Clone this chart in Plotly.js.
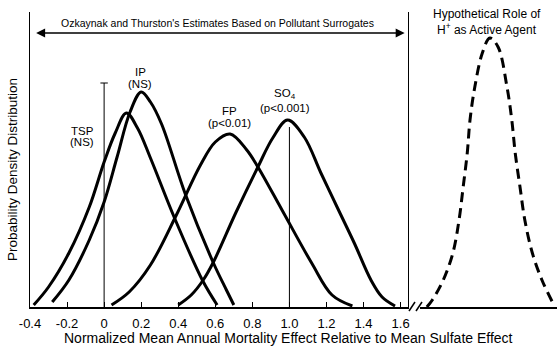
<!DOCTYPE html>
<html><head><meta charset="utf-8">
<script src="https://cdn.plot.ly/plotly-3.0.1.min.js"></script>
<style>html,body{margin:0;padding:0;background:#fff}#chart{width:557px;height:347px}</style>
</head><body><div id="chart"></div>
<script>
// ---- data ----
const tickVals = [-0.4, -0.2, 0, 0.2, 0.4, 0.6, 0.8, 1.0, 1.2, 1.4, 1.6];
const tickText = ["-0.4", "-0.2", "0", "0.2", "0.4", "0.6", "0.8", "1.0", "1.2", "1.4", "1.6"];

const tspX = [-0.38, -0.30, -0.19, -0.08, 0.0, 0.06, 0.12, 0.18, 0.25, 0.38, 0.53, 0.61];
const tspY = [0.02, 0.20, 0.54, 1.00, 1.45, 1.74, 1.94, 1.79, 1.49, 0.89, 0.27, 0.02];

const ipX = [-0.28, -0.19, -0.08, 0.0, 0.07, 0.14, 0.20, 0.25, 0.31, 0.44, 0.59, 0.66, 0.70];
const ipY = [0.05, 0.27, 0.67, 1.05, 1.50, 1.95, 2.15, 2.05, 1.83, 1.12, 0.44, 0.17, 0.02];

const fpX = [0.04, 0.135, 0.25, 0.39, 0.52, 0.60, 0.68, 0.77, 0.83, 0.96, 1.12, 1.23, 1.34];
const fpY = [0.02, 0.15, 0.42, 0.92, 1.42, 1.65, 1.73, 1.57, 1.40, 0.97, 0.44, 0.12, 0.01];

const so4X = [0.40, 0.47, 0.535, 0.59, 0.71, 0.83, 0.91, 0.99, 1.08, 1.17, 1.265, 1.35, 1.44, 1.50, 1.57];
const so4Y = [0.02, 0.12, 0.27, 0.45, 0.94, 1.40, 1.69, 1.87, 1.70, 1.34, 0.97, 0.64, 0.27, 0.10, 0.01];

// hypothetical H+ curve (separate, unscaled panel)
const hX = [0.05, 0.09, 0.17, 0.24, 0.285, 0.315, 0.345, 0.365, 0.40, 0.455, 0.51, 0.57, 0.635, 0.67, 0.695, 0.73, 0.765, 0.82, 0.89, 0.97];
const hY = [0.00, 0.07, 0.27, 0.54, 0.87, 1.20, 1.54, 1.87, 2.20, 2.54, 2.69, 2.60, 2.20, 1.87, 1.54, 1.20, 0.87, 0.54, 0.27, 0.04];

// reference markers at 0 (no effect) and 1.0 (mean sulfate effect)
const zeroLineTop = 2.24;
const sulfateLineTop = 1.80;

// ---- drawing ----
const W = 557, H = 347;
const px = v => v / W;
const py = v => (H - v) / H;
const FONT = '"Liberation Sans", Arial, Helvetica, sans-serif';

const curve = (x, y) => ({x, y, type: 'scatter', mode: 'lines', xaxis: 'x', yaxis: 'y',
  line: {color: '#000', width: 3, shape: 'spline', smoothing: 1}, hoverinfo: 'skip'});
const thin = (x, y) => ({x, y, type: 'scatter', mode: 'lines', xaxis: 'x', yaxis: 'y',
  line: {color: '#000', width: 1}, hoverinfo: 'skip'});

const traces = [
  thin([0, 0], [0, zeroLineTop]),
  thin([-0.02, 0.02], [zeroLineTop, zeroLineTop]),
  thin([1.0, 1.0], [0, sulfateLineTop]),
  curve(tspX, tspY),
  curve(ipX, ipY),
  curve(fpX, fpY),
  curve(so4X, so4Y),
  {x: hX, y: hY, type: 'scatter', mode: 'lines', xaxis: 'x2', yaxis: 'y',
   line: {color: '#000', width: 3, dash: '10px,6px', shape: 'spline', smoothing: 1}, hoverinfo: 'skip'}
];

function lab(text, x, y, size, angle) {
  return {text, x: px(x), y: py(y), xref: 'paper', yref: 'paper', showarrow: false,
    xanchor: 'center', yanchor: 'middle', textangle: angle || 0,
    font: {family: FONT, size: size || 11.5, color: '#000'}};
}

const annotations = [
  lab('TSP', 82, 131), lab('(NS)', 82, 142),
  lab('IP', 140, 72), lab('(NS)', 140, 84),
  lab('FP', 229, 111), lab('(p&lt;0.01)', 229, 123),
  lab('SO<sub>4</sub>', 285, 94), lab('(p&lt;0.001)', 285, 108),
  lab("Ozkaynak and Thurston's Estimates Based on Pollutant Surrogates", 217, 23, 10.5),
  lab('Hypothetical Role of', 487, 14, 12),
  lab('H<sup>+</sup> as Active Agent', 487, 29, 12),
  lab('Normalized Mean Annual Mortality Effect Relative to Mean Sulfate Effect', 289, 338, 14),
  lab('Probability Density Distribution', 12, 170, 13.5, -90),
  {x: 1.622, y: 2.74, ax: -0.375, ay: 2.74, xref: 'x', yref: 'y', axref: 'x', ayref: 'y',
   text: '', showarrow: true, arrowside: 'end+start', arrowhead: 2, arrowsize: 1.2, arrowwidth: 1.5, arrowcolor: '#000'}
];

const shapes = [
  {type: 'line', xref: 'paper', yref: 'paper', x0: px(409), y0: py(311), x1: px(415), y1: py(302), line: {color: '#000', width: 1.5}},
  {type: 'line', xref: 'paper', yref: 'paper', x0: px(416), y0: py(311), x1: px(422), y1: py(302), line: {color: '#000', width: 1.5}}
];

const layout = {
  width: W, height: H,
  margin: {l: 0, r: 0, t: 0, b: 0},
  paper_bgcolor: '#fff', plot_bgcolor: '#fff',
  showlegend: false,
  font: {family: FONT, color: '#000'},
  xaxis: {domain: [px(30), px(408)], range: [-0.4, 1.64], anchor: 'y',
    tickvals: tickVals, ticktext: tickText, ticks: 'inside', ticklen: 5, tickwidth: 1, tickcolor: '#000',
    showline: true, linecolor: '#000', linewidth: 1.5, showgrid: false, zeroline: false,
    tickfont: {family: FONT, size: 13, color: '#000'}, ticklabelstandoff: 4,
    automargin: false, fixedrange: true},
  xaxis2: {domain: [px(420), 1], range: [0, 1], anchor: 'y', showline: true, linecolor: '#000', linewidth: 1.5,
    showticklabels: false, ticks: '', showgrid: false, zeroline: false, automargin: false, fixedrange: true},
  yaxis: {domain: [py(307), py(12)], range: [0, 2.95], anchor: 'x',
    showline: true, mirror: true, linecolor: '#000', linewidth: 1, showticklabels: false, ticks: '',
    showgrid: false, zeroline: false, automargin: false, fixedrange: true},
  annotations, shapes
};

Plotly.newPlot('chart', traces, layout, {staticPlot: true, displayModeBar: false});
</script>
</body></html>
